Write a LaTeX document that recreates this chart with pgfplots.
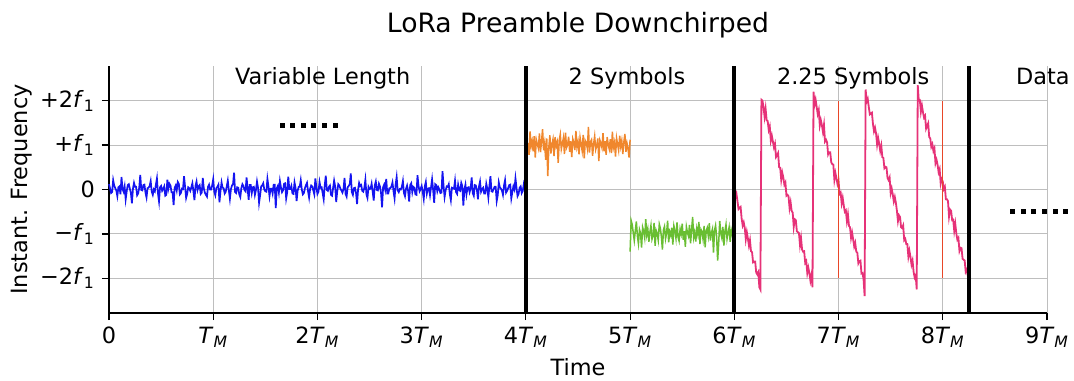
\documentclass[border=0pt]{standalone}
\usepackage{fontspec}
\setmainfont{DejaVu Sans}
\usepackage{pgfplots}
\usepackage{pgfplotstable}
\pgfplotsset{compat=1.18}
\definecolor{cblue}{RGB}{20,20,240}
\definecolor{corange}{RGB}{240,135,45}
\definecolor{cgreen}{RGB}{105,190,50}
\definecolor{cpink}{RGB}{230,50,120}
\definecolor{cred}{RGB}{232,70,40}
\definecolor{cgrid}{RGB}{190,190,190}
\newcommand{\TM}{\textit{T}\textsubscript{\textit{M}}}
\newcommand{\fo}{\textit{f}\textsubscript{1}}

% blue: x = 0 ... 4, step 0.01
\pgfplotstableread[row sep=\\]{y\\
0.12\\ 0.03\\ -0.08\\ -0.06\\ 0.21\\ 0.09\\ 0.03\\ -0.02\\ -0.15\\ 0.05\\ 0.07\\ -0.11\\ 0.28\\ 0.01\\ -0.05\\ 0.07\\ -0.22\\ -0.04\\ 0.10\\ 0.12\\
0.02\\ -0.08\\ -0.31\\ 0.02\\ 0.15\\ 0.06\\ 0.06\\ -0.13\\ -0.09\\ 0.04\\ 0.33\\ -0.01\\ -0.02\\ 0.10\\ 0.11\\ -0.07\\ -0.18\\ 0.03\\ 0.04\\ 0.08\\
0.19\\ -0.05\\ -0.12\\ 0.00\\ -0.04\\ 0.11\\ 0.25\\ -0.09\\ -0.27\\ 0.05\\ 0.08\\ -0.03\\ 0.01\\ 0.07\\ -0.14\\ -0.12\\ 0.22\\ 0.02\\ 0.13\\ 0.09\\
-0.06\\ -0.06\\ -0.35\\ 0.04\\ 0.09\\ -0.02\\ 0.17\\ 0.13\\ -0.11\\ -0.08\\ 0.02\\ 0.01\\ 0.30\\ 0.06\\ -0.19\\ -0.10\\ 0.05\\ 0.03\\ -0.03\\ 0.05\\
0.14\\ -0.04\\ -0.24\\ 0.08\\ 0.18\\ -0.01\\ 0.07\\ 0.10\\ -0.10\\ -0.07\\ 0.26\\ 0.02\\ -0.07\\ -0.12\\ -0.16\\ 0.06\\ 0.11\\ 0.00\\ 0.00\\ 0.09\\
0.23\\ -0.05\\ -0.13\\ 0.03\\ 0.06\\ 0.11\\ -0.29\\ -0.03\\ 0.16\\ 0.04\\ 0.03\\ -0.09\\ -0.05\\ 0.07\\ 0.20\\ -0.02\\ -0.21\\ 0.01\\ 0.09\\ 0.12\\
0.38\\ -0.06\\ -0.08\\ 0.05\\ 0.04\\ -0.11\\ -0.17\\ 0.03\\ 0.12\\ 0.08\\ -0.01\\ -0.04\\ 0.27\\ 0.02\\ -0.23\\ 0.10\\ 0.10\\ -0.08\\ 0.05\\ 0.06\\
-0.12\\ -0.01\\ 0.18\\ 0.04\\ -0.30\\ -0.13\\ 0.07\\ 0.09\\ 0.14\\ 0.00\\ -0.04\\ -0.05\\ 0.24\\ 0.07\\ -0.15\\ 0.02\\ 0.02\\ -0.09\\ 0.11\\ 0.11\\
-0.42\\ 0.03\\ 0.08\\ -0.07\\ 0.19\\ 0.05\\ -0.06\\ -0.02\\ 0.13\\ 0.14\\ -0.20\\ -0.06\\ 0.29\\ 0.01\\ 0.01\\ 0.08\\ -0.09\\ -0.10\\ 0.16\\ 0.04\\
-0.26\\ -0.03\\ 0.06\\ 0.06\\ 0.21\\ 0.00\\ -0.11\\ -0.08\\ 0.03\\ 0.10\\ 0.15\\ -0.04\\ -0.18\\ 0.02\\ 0.09\\ 0.07\\ -0.02\\ -0.11\\ 0.25\\ 0.05\\
-0.10\\ -0.05\\ 0.17\\ 0.04\\ 0.05\\ -0.08\\ -0.22\\ 0.10\\ 0.31\\ -0.01\\ -0.03\\ 0.06\\ 0.09\\ -0.12\\ -0.14\\ 0.03\\ 0.20\\ 0.07\\ -0.28\\ -0.04\\
0.12\\ 0.09\\ 0.02\\ -0.02\\ -0.07\\ 0.01\\ 0.26\\ -0.10\\ -0.16\\ 0.05\\ 0.08\\ 0.12\\ 0.36\\ -0.06\\ -0.12\\ 0.03\\ 0.04\\ -0.07\\ -0.33\\ 0.00\\
0.15\\ 0.08\\ 0.10\\ -0.03\\ -0.05\\ 0.04\\ 0.22\\ -0.11\\ -0.19\\ 0.06\\ 0.01\\ 0.02\\ 0.13\\ -0.05\\ -0.25\\ 0.09\\ 0.18\\ -0.01\\ -0.02\\ 0.13\\
0.07\\ -0.07\\ -0.40\\ 0.05\\ 0.11\\ 0.00\\ 0.24\\ -0.09\\ -0.09\\ 0.03\\ 0.03\\ 0.07\\ 0.16\\ -0.04\\ -0.20\\ 0.11\\ 0.28\\ -0.02\\ -0.06\\ 0.01\\
0.00\\ 0.06\\ 0.19\\ -0.08\\ -0.15\\ 0.02\\ 0.09\\ -0.03\\ -0.27\\ 0.10\\ 0.14\\ -0.06\\ 0.06\\ 0.04\\ -0.11\\ -0.12\\ 0.32\\ 0.08\\ -0.04\\ 0.01\\
0.08\\ -0.05\\ -0.21\\ 0.07\\ 0.17\\ -0.09\\ 0.02\\ 0.03\\ -0.13\\ 0.05\\ 0.23\\ -0.01\\ -0.30\\ 0.12\\ 0.10\\ -0.04\\ 0.05\\ 0.00\\ -0.08\\ -0.07\\
0.41\\ 0.09\\ -0.17\\ -0.02\\ 0.07\\ 0.06\\ 0.12\\ -0.10\\ -0.24\\ 0.04\\ 0.03\\ 0.02\\ 0.20\\ -0.06\\ -0.10\\ 0.11\\ -0.01\\ -0.03\\ 0.15\\ 0.08\\
-0.36\\ 0.00\\ 0.11\\ -0.11\\ 0.04\\ 0.05\\ -0.06\\ 0.03\\ 0.27\\ -0.08\\ -0.14\\ 0.10\\ 0.09\\ -0.01\\ -0.22\\ 0.07\\ 0.18\\ -0.05\\ 0.01\\ 0.04\\
-0.09\\ -0.09\\ 0.13\\ 0.02\\ -0.18\\ 0.08\\ 0.30\\ -0.04\\ -0.05\\ 0.01\\ 0.06\\ 0.06\\ -0.26\\ -0.13\\ 0.16\\ 0.05\\ 0.02\\ -0.02\\ -0.12\\ 0.09\\
0.21\\ -0.07\\ -0.03\\ 0.03\\ 0.10\\ 0.11\\ -0.20\\ -0.06\\ 0.07\\ 0.00\\ 0.25\\ 0.04\\ -0.15\\ -0.10\\ 0.04\\ 0.07\\ -0.08\\ -0.03\\ 0.12\\ 0.02\\
-0.40\\
}\bluedata

% orange: x = 4 ... 5, step 0.01
\pgfplotstableread[row sep=\\]{y\\
1.30\\ 0.80\\ 1.05\\ 0.78\\ 1.31\\ 0.97\\ 1.09\\ 0.86\\ 1.20\\ 0.72\\ 1.12\\ 1.02\\ 0.93\\ 1.26\\ 0.84\\ 1.08\\ 1.36\\ 0.88\\ 1.04\\ 0.67\\
1.15\\ 0.30\\ 0.95\\ 1.22\\ 0.81\\ 1.01\\ 1.13\\ 0.75\\ 1.18\\ 0.98\\ 1.07\\ 0.60\\ 1.11\\ 1.24\\ 0.91\\ 1.03\\ 1.16\\ 0.80\\ 1.28\\ 0.94\\
1.00\\ 1.19\\ 0.85\\ 1.09\\ 0.73\\ 1.14\\ 1.06\\ 0.89\\ 1.32\\ 0.96\\ 1.08\\ 0.79\\ 1.17\\ 1.02\\ 0.87\\ 1.23\\ 0.70\\ 1.10\\ 1.05\\ 0.92\\
1.41\\ 0.83\\ 1.07\\ 1.12\\ 0.76\\ 1.03\\ 1.20\\ 0.90\\ 0.99\\ 1.15\\ 0.64\\ 1.11\\ 1.04\\ 0.94\\ 1.27\\ 0.86\\ 1.09\\ 0.78\\ 1.18\\ 1.01\\
0.91\\ 1.13\\ 0.82\\ 1.30\\ 0.95\\ 1.06\\ 0.74\\ 1.16\\ 1.02\\ 0.88\\ 1.21\\ 0.97\\ 1.10\\ 0.80\\ 1.07\\ 1.25\\ 0.85\\ 1.04\\ 0.92\\ 0.72\\
1.12\\
}\orangedata

% green: x = 5 ... 6, step 0.01
\pgfplotstableread[row sep=\\]{y\\
-1.40\\ -0.70\\ -0.79\\ -0.97\\ -1.15\\ -0.93\\ -0.72\\ -1.05\\ -1.22\\ -0.90\\ -0.98\\ -1.31\\ -0.85\\ -0.94\\ -1.09\\ -0.67\\ -1.02\\ -0.89\\ -1.18\\ -0.96\\
-0.81\\ -1.12\\ -1.04\\ -0.75\\ -1.27\\ -0.92\\ -0.99\\ -1.14\\ -0.78\\ -0.87\\ -1.06\\ -1.35\\ -0.91\\ -0.83\\ -1.11\\ -0.98\\ -0.70\\ -1.19\\ -0.95\\ -1.03\\
-0.86\\ -1.24\\ -0.82\\ -0.93\\ -1.10\\ -0.74\\ -1.07\\ -1.16\\ -0.89\\ -1.00\\ -0.77\\ -1.13\\ -0.94\\ -1.29\\ -0.84\\ -0.97\\ -1.05\\ -0.80\\ -1.21\\ -0.91\\
-0.62\\ -1.08\\ -0.96\\ -1.17\\ -0.88\\ -1.01\\ -0.73\\ -1.23\\ -0.90\\ -0.95\\ -1.12\\ -0.82\\ -1.30\\ -0.93\\ -0.86\\ -1.04\\ -0.76\\ -1.15\\ -0.98\\ -0.89\\
-1.42\\ -0.92\\ -0.81\\ -1.06\\ -1.60\\ -1.20\\ -0.71\\ -0.99\\ -1.09\\ -0.84\\ -1.26\\ -0.94\\ -0.79\\ -1.11\\ -0.97\\ -0.85\\ -1.18\\ -0.91\\ -1.02\\ -0.75\\
-1.05\\
}\greendata

% pink: x = 6 ... 8.25, step 0.01
\pgfplotstableread[row sep=\\]{y\\
0.04\\ -0.15\\ -0.09\\ -0.26\\ -0.44\\ -0.41\\ -0.39\\ -0.65\\ -0.81\\ -0.74\\ -0.86\\ -1.12\\ -0.96\\ -1.10\\ -1.26\\ -1.14\\ -1.39\\ -1.41\\ -1.64\\ -1.62\\
-1.62\\ -1.87\\ -1.91\\ -1.86\\ -2.20\\ -2.25\\
2.02\\ 2.00\\ 1.86\\ 1.64\\ 1.82\\ 1.56\\ 1.54\\ 1.34\\ 1.42\\ 1.10\\ 1.21\\ 1.08\\ 0.95\\ 1.03\\ 0.73\\ 0.77\\ 0.82\\ 0.50\\ 0.49\\ 0.22\\
0.38\\ 0.27\\ 0.11\\ 0.16\\ -0.14\\ -0.12\\ -0.15\\ -0.42\\ -0.29\\ -0.48\\ -0.52\\ -0.84\\ -0.67\\ -0.69\\ -0.94\\ -0.96\\ -0.98\\ -1.25\\ -1.09\\ -1.35\\
-1.40\\ -1.39\\ -1.65\\ -1.61\\ -1.88\\ -1.76\\ -1.88\\ -2.05\\ -1.92\\ -2.20\\
2.20\\ 1.91\\ 2.02\\ 1.86\\ 1.70\\ 1.79\\ 1.44\\ 1.56\\ 1.45\\ 1.30\\ 1.46\\ 1.08\\ 1.12\\ 1.06\\ 0.79\\ 0.84\\ 0.84\\ 0.61\\ 0.57\\ 0.56\\
0.22\\ 0.37\\ 0.25\\ 0.12\\ 0.20\\ -0.10\\ -0.07\\ -0.31\\ -0.19\\ -0.36\\ -0.50\\ -0.47\\ -0.71\\ -0.56\\ -0.82\\ -0.85\\ -1.09\\ -0.97\\ -1.12\\ -1.28\\
-1.20\\ -1.40\\ -1.42\\ -1.66\\ -1.61\\ -1.60\\ -1.89\\ -1.88\\ -2.02\\ -2.40\\
2.25\\ 1.98\\ 2.04\\ 1.86\\ 1.69\\ 1.71\\ 1.73\\ 1.48\\ 1.31\\ 1.39\\ 1.26\\ 1.01\\ 1.16\\ 1.03\\ 0.87\\ 0.99\\ 0.73\\ 0.71\\ 0.48\\ 0.51\\
0.50\\ 0.26\\ 0.21\\ 0.27\\ -0.08\\ 0.02\\ -0.11\\ -0.27\\ -0.17\\ -0.30\\ -0.48\\ -0.71\\ -0.58\\ -0.62\\ -0.85\\ -0.87\\ -0.81\\ -1.14\\ -1.11\\ -1.23\\
-1.23\\ -1.51\\ -1.38\\ -1.52\\ -1.69\\ -1.60\\ -1.85\\ -1.98\\ -1.93\\ -2.25\\
2.35\\ 2.00\\ 2.01\\ 1.75\\ 1.89\\ 1.74\\ 1.62\\ 1.66\\ 1.37\\ 1.43\\ 1.49\\ 1.18\\ 1.15\\ 0.96\\ 1.02\\ 0.87\\ 0.93\\ 0.59\\ 0.67\\ 0.56\\
0.39\\ 0.46\\ 0.13\\ 0.23\\ 0.18\\ 0.01\\ 0.06\\ -0.22\\ -0.22\\ -0.26\\ -0.61\\ -0.45\\ -0.48\\ -0.69\\ -0.68\\ -0.93\\ -0.77\\ -0.99\\ -1.13\\ -1.09\\
-1.38\\ -1.31\\ -1.32\\ -1.56\\ -1.58\\ -1.60\\ -1.85\\ -1.80\\ -1.94\\ -1.89\\
}\pinkdata

\begin{document}
\begin{tikzpicture}
\useasboundingbox (-54.5pt,-33.5pt) rectangle (482.5pt,156.5pt);
\begin{axis}[
  at={(0,0)}, anchor=south west,
  scale only axis, width=469pt, height=123.5pt,
  xmin=0, xmax=9, ymin=-2.78, ymax=2.78,
  axis x line*=bottom, axis y line*=left,
  axis line style={-, black, line width=0.6pt},
  xtick={0,1,2,3,4,5,6,7,8,9},
  xticklabels={0, \TM, 2\TM, 3\TM, 4\TM, 5\TM, 6\TM, 7\TM, 8\TM, 9\TM},
  ytick={-2,-1,0,1,2},
  yticklabels={−2\fo, −\fo, 0, +\fo, +2\fo},
  tick align=outside, major tick length=3.5pt,
  tick style={black, line width=0.6pt},
  grid=major, grid style={cgrid, line width=0.5pt},
  ticklabel style={font=\fontsize{11.2}{13}\selectfont},
  label style={font=\fontsize{11.2}{13}\selectfont},
  title={LoRa Preamble Downchirped},
  title style={font=\fontsize{13.3}{16}\selectfont, at={(axis description cs:0.5,1.085)}, anchor=base},
  xlabel={Time},
  xlabel style={at={(axis description cs:0.5,-0.255)}, anchor=base},
  ylabel={Instant. Frequency},
  ylabel style={at={(axis description cs:-0.0927,0.5)}, anchor=center},
  clip=false,
]
\addplot[cblue, line width=0.85pt] table[x expr=\coordindex*0.01, y=y]{\bluedata};
\addplot[corange, line width=0.75pt] table[x expr=4+\coordindex*0.01, y=y]{\orangedata};
\addplot[cgreen, line width=0.75pt] table[x expr=5+\coordindex*0.01, y=y]{\greendata};
\addplot[cpink, line width=0.9pt] table[x expr=6+\coordindex*0.01, y=y]{\pinkdata};
\addplot[cred, line width=0.5pt] coordinates {(7,-2) (7,2)};
\addplot[cred, line width=0.5pt] coordinates {(8,-2) (8,2)};
\addplot[black, line width=2pt] coordinates {(4,-2.78) (4,2.78)};
\addplot[black, line width=2pt] coordinates {(6,-2.78) (6,2.78)};
\addplot[black, line width=2pt] coordinates {(8.25,-2.78) (8.25,2.78)};
\addplot[only marks, black, mark=square*, mark size=1pt] coordinates {(1.66,1.45) (1.762,1.45) (1.864,1.45) (1.966,1.45) (2.068,1.45) (2.17,1.45)};
\addplot[only marks, black, mark=square*, mark size=1pt] coordinates {(8.67,-0.49) (8.772,-0.49) (8.874,-0.49) (8.976,-0.49) (9.078,-0.49) (9.18,-0.49)};
\node[anchor=base, font=\fontsize{11.2}{13}\selectfont] at (axis cs:2.05,2.36) {Variable Length};
\node[anchor=base, font=\fontsize{11.2}{13}\selectfont] at (axis cs:4.97,2.36) {2 Symbols};
\node[anchor=base, font=\fontsize{11.2}{13}\selectfont] at (axis cs:7.14,2.36) {2.25 Symbols};
\node[anchor=base, font=\fontsize{11.2}{13}\selectfont] at (axis cs:8.96,2.36) {Data};
\end{axis}
\end{tikzpicture}
\end{document}
